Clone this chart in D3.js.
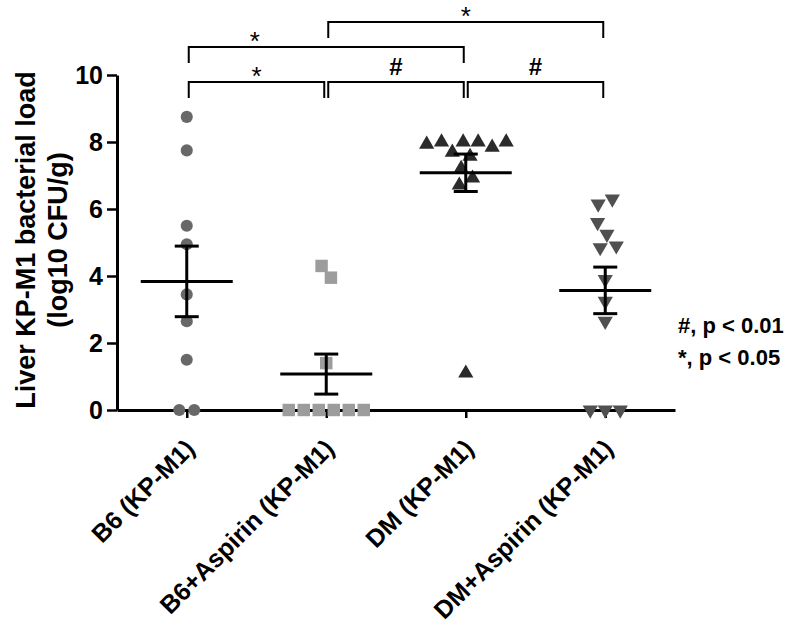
<!DOCTYPE html>
<html>
<head>
<meta charset="utf-8">
<script src="https://cdn.jsdelivr.net/npm/d3@7"></script>
<style>
  body { margin: 0; background: #fff; }
  text { font-family: "Liberation Sans", Arial, sans-serif; }
</style>
</head>
<body>
<div id="chart"></div>
<script>
// groups on the x axis
const groups = ["B6 (KP-M1)", "B6+Aspirin (KP-M1)", "DM (KP-M1)", "DM+Aspirin (KP-M1)"];

// log10 CFU/g per mouse
const b6 = [8.75, 7.75, 5.5, 4.95, 3.45, 2.65, 1.5, 0, 0];
const b6Aspirin = [4.3, 3.95, 1.4, 0, 0, 0, 0, 0, 0];
const dm = [8.0, 8.0, 8.0, 8.0, 7.93, 7.84, 7.69, 7.57, 7.21, 6.92, 6.71, 1.1];
const dmAspirin = [6.15, 6.3, 5.6, 5.25, 4.85, 4.9, 3.9, 3.25, 2.65, 0, 0, 0];

const yTicks = [0, 2, 4, 6, 8, 10];

// significance brackets: group indexes, mark, stacking level
const comparisons = [
  { from: 0, to: 1, label: "*", level: 0 },
  { from: 1, to: 2, label: "#", level: 0 },
  { from: 2, to: 3, label: "#", level: 0 },
  { from: 0, to: 2, label: "*", level: 1, at: 0.24 },
  { from: 1, to: 3, label: "*", level: 2 }
];

const legendLines = ["#, p < 0.01", "*, p < 0.05"];

const width = 800;
const height = 627;

const series = [
  { name: groups[0], values: b6, symbol: d3.symbolCircle, size: 115, rotate: 0, color: "#686868" },
  { name: groups[1], values: b6Aspirin, symbol: d3.symbolSquare, size: 155, rotate: 0, color: "#9c9c9c" },
  { name: groups[2], values: dm, symbol: d3.symbolTriangle, size: 100, rotate: 0, color: "#2b2b2b" },
  { name: groups[3], values: dmAspirin, symbol: d3.symbolTriangle, size: 100, rotate: 180, color: "#505050" }
];

const svg = d3
  .select("#chart")
  .append("svg")
  .attr("width", width)
  .attr("height", height);

svg.append("rect").attr("width", width).attr("height", height).attr("fill", "#fff");

const x = d3.scalePoint().domain(groups).range([117, 675]).padding(0.5);
const y = d3.scaleLinear().domain([0, 10]).range([410, 75]);

// y axis
const yAxis = svg
  .append("g")
  .attr("transform", "translate(117,0)")
  .call(d3.axisLeft(y).tickValues(yTicks).tickSize(10).tickPadding(4).tickSizeOuter(0));
yAxis.select(".domain").attr("stroke", "#000").attr("stroke-width", 3);
yAxis.selectAll(".tick line").attr("stroke", "#000").attr("stroke-width", 2.5);
yAxis
  .selectAll(".tick text")
  .attr("fill", "#000")
  .attr("font-size", 25)
  .attr("font-weight", "bold")
  .style("font-family", '"Liberation Sans", Arial, sans-serif');

// x axis
const xAxis = svg
  .append("g")
  .attr("transform", "translate(0,410)")
  .call(d3.axisBottom(x).tickSize(8).tickSizeOuter(0));
xAxis.select(".domain").attr("stroke", "#000").attr("stroke-width", 3);
xAxis.selectAll(".tick line").attr("stroke", "#000").attr("stroke-width", 2.5);
xAxis
  .selectAll(".tick text")
  .attr("x", 0)
  .attr("y", 0)
  .attr("dy", 0)
  .attr("transform", "translate(9,40) rotate(-45)")
  .attr("text-anchor", "end")
  .attr("fill", "#000")
  .attr("font-size", 25)
  .attr("font-weight", "bold")
  .style("font-family", '"Liberation Sans", Arial, sans-serif');

// y title
const yTitle = ["Liver KP-M1 bacterial load", "(log10 CFU/g)"];
svg
  .selectAll(".y-title")
  .data(yTitle)
  .enter()
  .append("text")
  .classed("y-title", true)
  .attr("transform", (d, i) => `translate(${35 + i * 32},240) rotate(-90)`)
  .attr("text-anchor", "middle")
  .attr("font-size", 27)
  .attr("font-weight", "bold")
  .text(d => d);

// scatter: spread points sideways so they don't overlap
const points = svg.append("g");
series.forEach(s => {
  const cx = x(s.name);
  const nodes = s.values.map((v, i) => ({
    v: v,
    x: cx + (i % 2 ? 1 : -1) * i * 0.3,
    fy: y(v)
  }));
  const sim = d3
    .forceSimulation(nodes)
    .force("x", d3.forceX(cx).strength(0.06))
    .force("collide", d3.forceCollide(7.5).iterations(4))
    .stop();
  for (let k = 0; k < 400; k++) sim.tick();

  points
    .selectAll(null)
    .data(nodes)
    .enter()
    .append("path")
    .attr("d", d3.symbol().type(s.symbol).size(s.size))
    .attr("transform", d => `translate(${d.x},${d.fy}) rotate(${s.rotate})`)
    .attr("fill", s.color);
});

// mean +/- SEM
const stats = svg.append("g").attr("stroke", "#000").attr("stroke-width", 3);
series.forEach(s => {
  const cx = x(s.name);
  const m = d3.mean(s.values);
  const sem = d3.deviation(s.values) / Math.sqrt(s.values.length);
  stats.append("line").attr("x1", cx - 46).attr("x2", cx + 46).attr("y1", y(m)).attr("y2", y(m));
  stats.append("line").attr("x1", cx).attr("x2", cx).attr("y1", y(m + sem)).attr("y2", y(m - sem));
  [m + sem, m - sem].forEach(v => {
    stats.append("line").attr("x1", cx - 12).attr("x2", cx + 12).attr("y1", y(v)).attr("y2", y(v));
  });
});

// significance brackets
const levelY = [82, 47, 22];
const brackets = svg.append("g");
comparisons.forEach(c => {
  const x1 = x(groups[c.from]) + 2;
  const x2 = x(groups[c.to]) - 2;
  const by = levelY[c.level];
  brackets
    .append("path")
    .attr("d", `M${x1},${by + 16}V${by}H${x2}V${by + 16}`)
    .attr("fill", "none")
    .attr("stroke", "#000")
    .attr("stroke-width", 2);
  const lx = x1 + (x2 - x1) * (c.at === undefined ? 0.5 : c.at);
  const star = c.label === "*";
  brackets
    .append("text")
    .attr("x", lx)
    .attr("y", star ? by + 3 : by - 7)
    .attr("text-anchor", "middle")
    .attr("font-size", star ? 26 : 24)
    .attr("font-weight", star ? "normal" : "bold")
    .text(c.label);
});

// p-value key
svg
  .selectAll(".key")
  .data(legendLines)
  .enter()
  .append("text")
  .classed("key", true)
  .attr("x", 678)
  .attr("y", (d, i) => 333 + i * 32)
  .attr("font-size", 22)
  .attr("font-weight", "bold")
  .text(d => d);
</script>
</body>
</html>
